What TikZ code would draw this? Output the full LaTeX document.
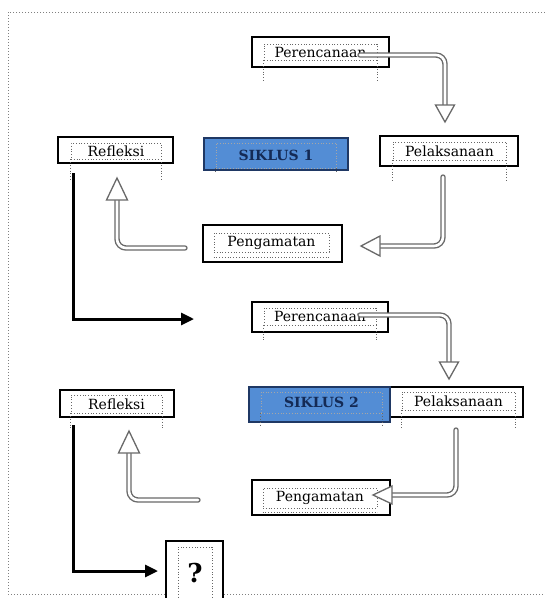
\documentclass[tikz,border=0pt]{standalone}
\usepackage{fontspec}
\setmainfont{DejaVu Serif}
\usetikzlibrary{arrows.meta}
\definecolor{sikblue}{RGB}{83,141,213}
\definecolor{sikedge}{RGB}{31,56,100}
\definecolor{siktext}{RGB}{20,42,85}
\definecolor{arrgray}{RGB}{105,105,105}
\begin{document}
\begin{tikzpicture}[x=1pt,y=-1pt,
  outerbox/.style={draw=black, line width=1.4pt, fill=white, rectangle, inner sep=0pt},
  sikbox/.style={draw=sikedge, line width=1.4pt, fill=sikblue, rectangle, inner sep=0pt},
  innerbox/.style={draw=black!60, dotted, line width=0.8pt, rectangle, inner sep=0pt,
     font=\fontsize{14}{16}\selectfont, text=black},
  siklabel/.style={innerbox, draw=gray!70, font=\fontsize{14}{16}\selectfont\bfseries, text=siktext},
  tickline/.style={draw=black!60, dotted, line width=0.8pt},
  shaft/.style={draw=arrgray, double=white, double distance=2.6pt, line width=1.4pt,
     rounded corners=9pt, line cap=round},
  hollowhead/.style={draw=arrgray, fill=white, line width=1.3pt, line join=miter},
  blackarrow/.style={draw=black, line width=3pt, -{Triangle[length=13pt,width=12pt]}}
]
\useasboundingbox (0,0) rectangle (545,598);
\clip (0,0) rectangle (545,598);
% frame
\draw[gray, dotted, line width=1pt] (8,12) rectangle (560,594);

% ---- cycle 1 ----
\node[outerbox, minimum width=137, minimum height=30] (per1) at (320.5,52) {};
\node[innerbox, minimum width=113, minimum height=16] (per1t) at (320.5,52) {Perencanaan};
\node[outerbox, minimum width=115, minimum height=26] (ref1) at (115.5,150) {};
\node[innerbox, minimum width=90, minimum height=16] (ref1t) at (116,151) {Refleksi};
\node[sikbox, minimum width=144, minimum height=32] (sik1) at (276,154) {};
\node[siklabel, minimum width=120, minimum height=25] (sik1t) at (276,155.5) {SIKLUS 1};
\node[outerbox, minimum width=138, minimum height=30] (pel1) at (449,151) {};
\node[innerbox, minimum width=113, minimum height=18] (pel1t) at (449.5,151) {Pelaksanaan};
\node[outerbox, minimum width=139, minimum height=37] (pen1) at (272.5,243.5) {};
\node[innerbox, minimum width=115, minimum height=19] (pen1t) at (271.5,242.5) {Pengamatan};
\draw[tickline] ([yshift=-5]pen1t.south west) -- ([yshift=-5]pen1t.south east);

% ---- cycle 2 ----
\node[outerbox, minimum width=136, minimum height=30] (per2) at (320,317) {};
\node[innerbox, minimum width=112, minimum height=17] (per2t) at (320,316.5) {Perencanaan};
\node[outerbox, minimum width=114, minimum height=27] (ref2) at (117,403.5) {};
\node[innerbox, minimum width=91, minimum height=18] (ref2t) at (116.5,404) {Refleksi};
\node[outerbox, minimum width=135, minimum height=30] (pel2) at (455.5,402) {};
\node[innerbox, minimum width=113, minimum height=18] (pel2t) at (458.5,401) {Pelaksanaan};
\node[sikbox, minimum width=141, minimum height=35] (sik2) at (319.5,404.5) {};
\node[siklabel, minimum width=121, minimum height=21] (sik2t) at (321.5,402.5) {SIKLUS 2};
\node[outerbox, minimum width=138, minimum height=35] (pen2) at (321,497.5) {};
\node[innerbox, minimum width=114, minimum height=20] (pen2t) at (320,498) {Pengamatan};
\draw[tickline] ([yshift=-4]pen2t.south west) -- ([yshift=-4]pen2t.south east);
\node[outerbox, minimum width=57, minimum height=60] (q) at (194.5,571) {};
\node[innerbox, minimum width=34, minimum height=53, font=\fontsize{26}{28}\selectfont\bfseries] (qt) at (195,573.5) {?};

% ticks under text frames
\foreach \n/\d in {per1t/20, ref1t/21, pel1t/21, per2t/15, ref2t/16, pel2t/17, sik1t/4, sik2t/12}{
  \draw[tickline] (\n.south west) -- ++(0,\d);
  \draw[tickline] (\n.south east) -- ++(0,\d);
}

% ---- hollow double arrows ----
% A1: Perencanaan 1 -> Pelaksanaan 1
\coordinate (a1s) at (360,55);
\coordinate (a1b) at (445,105);
\coordinate (a1t) at (445,122);
\draw[shaft] (a1s) -| (a1b);
\draw[hollowhead] (a1t) -- ++(-9.5,-17) -- ++(19,0) -- cycle;
% A2: Pelaksanaan 1 -> Pengamatan 1
\coordinate (a2s) at (443,177);
\coordinate (a2b) at (380,246);
\coordinate (a2t) at (361,246);
\draw[shaft] (a2s) |- (a2b);
\draw[hollowhead] (a2t) -- ++(19,-10) -- ++(0,20) -- cycle;
% A3: Pengamatan 1 -> Refleksi 1
\coordinate (a3s) at (185,248);
\coordinate (a3b) at (117,200);
\coordinate (a3t) at (117,178);
\draw[shaft] (a3s) -| (a3b);
\draw[hollowhead] (a3t) -- ++(-10.5,22) -- ++(21,0) -- cycle;
% A5: Perencanaan 2 -> Pelaksanaan 2
\coordinate (a5s) at (360,315);
\coordinate (a5b) at (449,362);
\coordinate (a5t) at (449,379);
\draw[shaft] (a5s) -| (a5b);
\draw[hollowhead] (a5t) -- ++(-9.5,-17) -- ++(19,0) -- cycle;
% A6: Pelaksanaan 2 -> Pengamatan 2
\coordinate (a6s) at (456,430);
\coordinate (a6b) at (392,495);
\coordinate (a6t) at (373,495);
\draw[shaft] (a6s) |- (a6b);
\draw[hollowhead] (a6t) -- ++(19,-9) -- ++(0,18) -- cycle;
% A7: Pengamatan 2 -> Refleksi 2
\coordinate (a7s) at (198,500);
\coordinate (a7b) at (129,453);
\coordinate (a7t) at (129,431);
\draw[shaft] (a7s) -| (a7b);
\draw[hollowhead] (a7t) -- ++(-10.5,22) -- ++(21,0) -- cycle;

% ---- black arrows ----
\coordinate (b1s) at (73,173);
\coordinate (b1t) at (194,319);
\draw[blackarrow] (b1s) |- (b1t);
\coordinate (b2s) at (73,425);
\coordinate (b2t) at (158,571);
\draw[blackarrow] (b2s) |- (b2t);
\end{tikzpicture}
\end{document}
